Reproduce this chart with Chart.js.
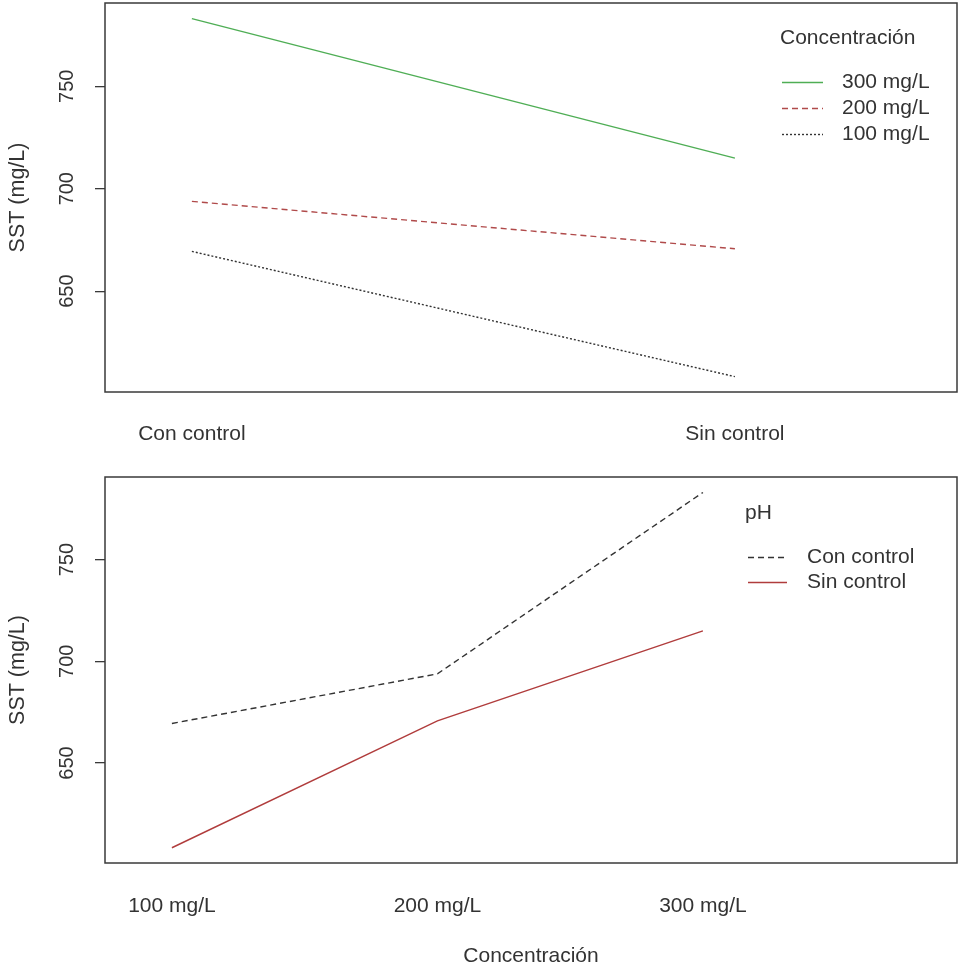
<!DOCTYPE html>
<html>
<head>
<meta charset="utf-8">
<title>SST interacción</title>
<script src="https://cdn.jsdelivr.net/npm/chart.js@4.4.1/dist/chart.umd.min.js"></script>
<style>
  body { margin: 0; background: #fff; }
  #wrap { position: relative; width: 964px; height: 972px; }
  canvas { position: absolute; left: 0; }
  #top { top: 0; }
  #bottom { top: 460px; }
</style>
</head>
<body>
<div id="wrap">
  <canvas id="top" width="964" height="460"></canvas>
  <canvas id="bottom" width="964" height="512"></canvas>
</div>
<script>
// data
var phLevels = ['Con control', 'Sin control'];
var concLevels = ['100 mg/L', '200 mg/L', '300 mg/L'];
var conControl = [669.4, 693.8, 783.0];   // SST by concentration, pH con control
var sinControl = [608.3, 670.7, 714.9];   // SST by concentration, pH sin control
var yTicks = [650, 700, 750];

var FONT = 'Liberation Sans, Arial, sans-serif';
var INK = '#333';

// box round the plot, rotated y tick labels, legend inside the plot
var rBase = {
    id: 'rBase',
    afterDraw: function(chart, args, opts) {
        var ctx = chart.ctx;
        var a = chart.chartArea;
        ctx.save();
        ctx.strokeStyle = '#3a3a3a';
        ctx.lineWidth = 1.5;
        ctx.strokeRect(a.left, a.top, a.right - a.left, a.bottom - a.top);

        // y tick labels, parallel to the axis as R does
        var ys = chart.scales.y;
        ctx.fillStyle = INK;
        ctx.font = '20px ' + FONT;
        ctx.textAlign = 'center';
        ctx.textBaseline = 'middle';
        ys.ticks.forEach(function(t) {
            var py = ys.getPixelForValue(t.value);
            ctx.save();
            ctx.translate(67, py);
            ctx.rotate(-Math.PI / 2);
            ctx.fillText(String(t.value), 0, 0);
            ctx.restore();
        });

        // legend
        var lg = opts.legend;
        ctx.font = '21px ' + FONT;
        ctx.textAlign = 'left';
        ctx.fillText(lg.title, lg.titleX, lg.titleY);
        chart.data.datasets.forEach(function(ds, i) {
            var ry = lg.rowY + i * lg.rowGap;
            ctx.save();
            ctx.strokeStyle = ds.borderColor;
            ctx.lineWidth = ds.borderWidth;
            ctx.setLineDash(ds.borderDash || []);
            ctx.beginPath();
            ctx.moveTo(lg.lineX1, ry + 0.5);
            ctx.lineTo(lg.lineX2, ry + 0.5);
            ctx.stroke();
            ctx.restore();
            ctx.fillText(ds.label, lg.textX, ry);
        });
        ctx.restore();
    }
};

function makeOptions(levels, xmin, xmax, pad, xAxisHeight, xTitle, tickPad, legend) {
    return {
        responsive: false,
        animation: false,
        layout: { padding: pad },
        plugins: {
            legend: { display: false },
            tooltip: { enabled: false },
            rBase: { legend: legend }
        },
        elements: { point: { radius: 0 }, line: { tension: 0 } },
        scales: {
            x: {
                type: 'linear',
                min: xmin,
                max: xmax,
                afterBuildTicks: function(scale) {
                    scale.ticks = levels.map(function(l, i) { return { value: i + 1 }; });
                },
                afterFit: function(scale) { scale.height = xAxisHeight; },
                grid: { display: false, drawTicks: false },
                border: { display: false },
                ticks: {
                    autoSkip: false,
                    maxRotation: 0,
                    padding: tickPad,
                    color: INK,
                    font: { family: FONT, size: 21 },
                    callback: function(v) { return levels[v - 1]; }
                },
                title: {
                    display: !!xTitle,
                    text: xTitle,
                    color: INK,
                    font: { family: FONT, size: 21 },
                    padding: { top: 0, bottom: 3 }
                }
            },
            y: {
                min: 600.8,
                max: 790.6,
                afterBuildTicks: function(scale) {
                    scale.ticks = yTicks.map(function(v) { return { value: v }; });
                },
                afterFit: function(scale) { scale.width = 105; },
                grid: { drawOnChartArea: false, drawTicks: true, tickLength: 10, color: '#3a3a3a', lineWidth: 1.3 },
                border: { display: false },
                ticks: { display: false },
                title: {
                    display: true,
                    text: 'SST (mg/L)',
                    color: INK,
                    font: { family: FONT, size: 21.5 },
                    padding: { top: 5, bottom: 0 }
                }
            }
        }
    };
}

function pts(values) {
    return values.map(function(v, i) { return { x: i + 1, y: v }; });
}

new Chart(document.getElementById('top'), {
    type: 'line',
    data: {
        datasets: [
            { label: '300 mg/L', data: pts([conControl[2], sinControl[2]]), borderColor: '#4fae55', borderWidth: 1.4 },
            { label: '200 mg/L', data: pts([conControl[1], sinControl[1]]), borderColor: '#b04a4a', borderWidth: 1.4, borderDash: [6, 4] },
            { label: '100 mg/L', data: pts([conControl[0], sinControl[0]]), borderColor: '#333', borderWidth: 1.4, borderDash: [2, 2] }
        ]
    },
    options: makeOptions(phLevels, 0.84, 2.409, { left: 0, top: 3, right: 7, bottom: 0 }, 68, '', 30,
        { title: 'Concentración', titleX: 780, titleY: 38, lineX1: 782, lineX2: 823, textX: 842, rowY: 82, rowGap: 26 }),
    plugins: [rBase]
});

new Chart(document.getElementById('bottom'), {
    type: 'line',
    data: {
        datasets: [
            { label: 'Con control', data: pts(conControl), borderColor: '#333', borderWidth: 1.4, borderDash: [6, 4] },
            { label: 'Sin control', data: pts(sinControl), borderColor: '#b03c3c', borderWidth: 1.4 }
        ]
    },
    options: makeOptions(concLevels, 0.748, 3.957, { left: 0, top: 17, right: 7, bottom: 0 }, 109, 'Concentración', 31,
        { title: 'pH', titleX: 745, titleY: 53, lineX1: 748, lineX2: 787, textX: 807, rowY: 97, rowGap: 25 }),
    plugins: [rBase]
});
</script>
</body>
</html>
